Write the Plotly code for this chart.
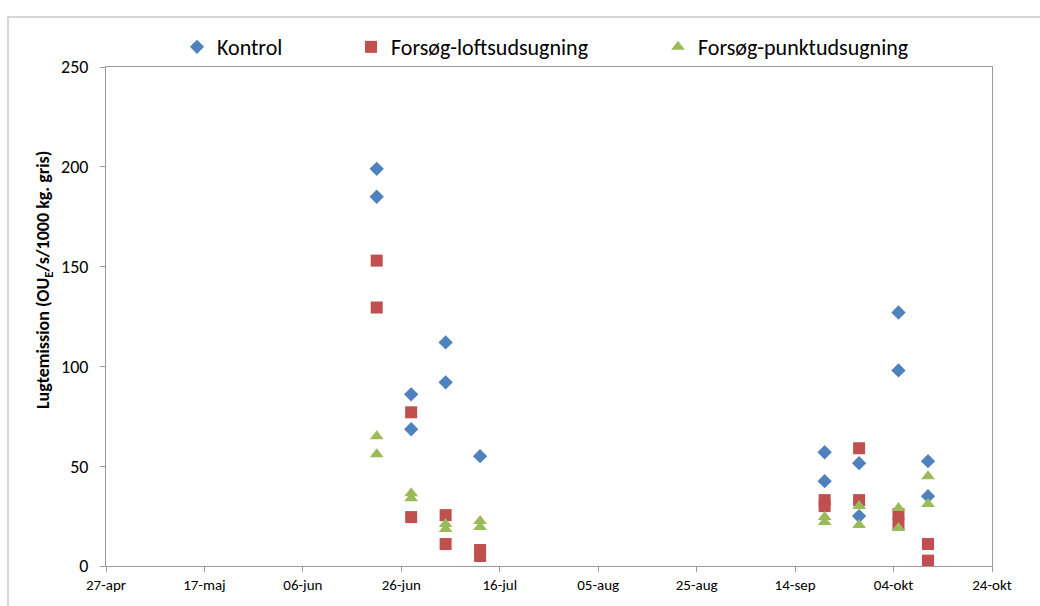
import plotly.graph_objects as go

# Measurement dates (two samples per series per date)
kontrol_dates = ["2010-06-21", "2010-06-21", "2010-06-28", "2010-06-28",
                 "2010-07-05", "2010-07-05", "2010-07-12",
                 "2010-09-20", "2010-09-20", "2010-09-27", "2010-09-27",
                 "2010-10-05", "2010-10-05", "2010-10-11", "2010-10-11"]
kontrol_values = [199, 185, 86, 68.5, 112, 92, 55,
                  57, 42.5, 51.5, 25, 127, 98, 52.5, 35]

loft_dates = ["2010-06-21", "2010-06-21", "2010-06-28", "2010-06-28",
              "2010-07-05", "2010-07-05", "2010-07-12", "2010-07-12",
              "2010-09-20", "2010-09-20", "2010-09-27", "2010-09-27",
              "2010-10-05", "2010-10-05", "2010-10-11", "2010-10-11"]
loft_values = [153, 129.5, 77, 24.5, 25.5, 11, 8, 5,
               33, 30, 59, 33, 26, 21, 11, 2.7]

punkt_dates = ["2010-06-21", "2010-06-21", "2010-06-28", "2010-06-28",
               "2010-07-05", "2010-07-05", "2010-07-12", "2010-07-12",
               "2010-09-20", "2010-09-20", "2010-09-27", "2010-09-27",
               "2010-10-05", "2010-10-05", "2010-10-11", "2010-10-11"]
punkt_values = [65, 56, 36.5, 34, 21, 18.5, 22.5, 19.5,
                24.5, 22, 30, 20.5, 29, 19, 45, 31]

x_tick_dates = ["2010-04-27", "2010-05-17", "2010-06-06", "2010-06-26",
                "2010-07-16", "2010-08-05", "2010-08-25", "2010-09-14",
                "2010-10-04", "2010-10-24"]
x_tick_labels = ["27-apr", "17-maj", "06-jun", "26-jun", "16-jul",
                 "05-aug", "25-aug", "14-sep", "04-okt", "24-okt"]
y_ticks = [0, 50, 100, 150, 200, 250]

FONT = "Carlito, Lato, sans-serif"
AXIS_GREY = "#9a9a9a"

# Plot area in pixels: x 106..992, y 67..566
PLOT_L, PLOT_W, PLOT_B, PLOT_H = 106, 886, 566, 499

fig = go.Figure()
fig.add_trace(go.Scatter(
    x=kontrol_dates, y=kontrol_values, mode="markers", name="Kontrol",
    marker=dict(symbol="diamond", size=11, color="#4F81BD"),
    legend="legend2"))
fig.add_trace(go.Scatter(
    x=loft_dates, y=loft_values, mode="markers", name="Forsøg-loftsudsugning",
    marker=dict(symbol="square", size=12, color="#C0504D"),
    legend="legend3"))
fig.add_trace(go.Scatter(
    x=punkt_dates, y=punkt_values, mode="markers", name="Forsøg-punktudsugning",
    marker=dict(symbol="triangle-up", size=12, color="#9BBB59"),
    legend="legend4"))

legend_common = dict(orientation="h", yanchor="middle", xanchor="left",
                     y=1.04, yref="paper", bgcolor="rgba(0,0,0,0)",
                     font=dict(family=FONT, size=22, color="#000000"),
                     itemwidth=30, tracegroupgap=0)

fig.update_layout(
    width=1040, height=606,
    margin=dict(l=106, r=48, t=67, b=40),
    paper_bgcolor="white", plot_bgcolor="white",
    font=dict(family=FONT, size=13, color="#000000"),
    showlegend=True,
    legend2=dict(x=(177 - PLOT_L) / PLOT_W, **legend_common),
    legend3=dict(x=(351 - PLOT_L) / PLOT_W, **legend_common),
    legend4=dict(x=(658 - PLOT_L) / PLOT_W, **legend_common),
    xaxis=dict(
        type="date", range=["2010-04-27", "2010-10-24"],
        tickvals=x_tick_dates, ticktext=x_tick_labels,
        showgrid=False, zeroline=False,
        showline=True, linecolor=AXIS_GREY, linewidth=1, mirror=True,
        ticks="outside", ticklen=5, tickcolor=AXIS_GREY,
        tickfont=dict(family=FONT, size=15, color="#000000"),
    ),
    yaxis=dict(
        range=[0, 250], tickvals=y_ticks,
        showgrid=False, zeroline=False,
        showline=True, linecolor=AXIS_GREY, linewidth=1, mirror=True,
        ticks="outside", ticklen=5, tickcolor=AXIS_GREY,
        ticklabelstandoff=8,
        tickfont=dict(family=FONT, size=18, color="#000000"),
    ),
    annotations=[dict(
        text="<b>Lugtemission (OU<sub>E</sub>/s/1000 kg. gris)</b>",
        textangle=-90, showarrow=False,
        xref="paper", yref="paper",
        x=(44 - PLOT_L) / PLOT_W, y=(PLOT_B - 280) / PLOT_H,
        xanchor="center", yanchor="middle",
        font=dict(family=FONT, size=18, color="#000000"),
    )],
    shapes=[dict(type="rect", xref="paper", yref="paper",
                 x0=(8 - PLOT_L) / PLOT_W, x1=1.2, y0=-0.2,
                 y1=(PLOT_B - 17) / PLOT_H,
                 line=dict(color="#c8c8c8", width=1.5), layer="below")],
)

fig.write_html("out.html")
